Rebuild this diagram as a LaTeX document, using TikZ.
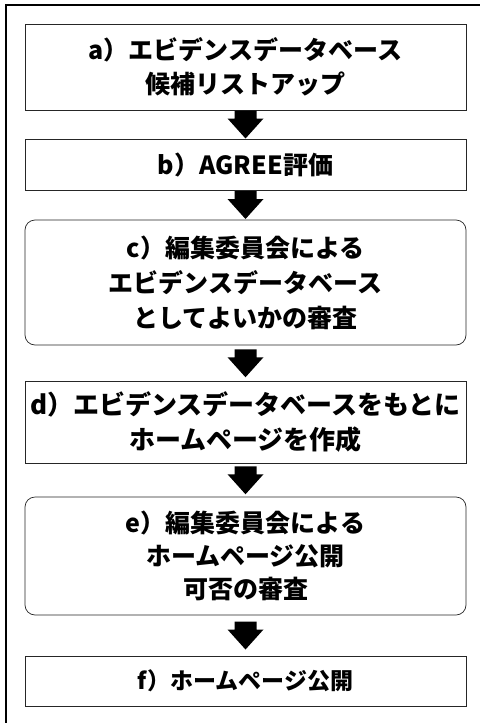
\documentclass[tikz,border=0pt]{standalone}
\usepackage{fontspec}
\newfontfamily\jp{Noto Sans CJK JP}
\usetikzlibrary{calc}
\tikzset{
  stepbox/.style={draw=black!85, line width=0.7pt, minimum width=441pt, inner sep=0pt,
    align=center, font=\jp\bfseries\fontsize{25}{34}\selectfont, text=black},
  roundbox/.style={stepbox, rounded corners=10pt},
  downarrow/.pic={\fill[black] (-11,-14) -- (11,-14) -- (11,-6) -- (18,-6) -- (0,14) -- (-18,-6) -- (-11,-6) -- cycle;},
}
\begin{document}
\begin{tikzpicture}[x=1pt,y=-1pt]
\useasboundingbox (0,0) rectangle (480,723);
% outer frame (cut off at right and bottom)
\draw[line width=2pt] (6,723) -- (6,5) -- (480,5);
\node[stepbox, minimum height=86pt] (a) at (245.5,67) {a）エビデンスデータベース\\候補リストアップ};
\node[stepbox, minimum height=51pt] (b) at (245.5,164.5) {b）AGREE評価};
\node[roundbox, minimum height=125pt, font=\jp\bfseries\fontsize{25}{35}\selectfont] (c) at (245.5,282.5) {c）編集委員会による\\エビデンスデータベース\\としてよいかの審査};
\node[stepbox, minimum height=82pt, font=\jp\bfseries\fontsize{26}{35}\selectfont] (d) at (245.5,422.5) {d）エビデンスデータベースをもとに\\ホームページを作成};
\node[roundbox, minimum height=118pt, font=\jp\bfseries\fontsize{25}{33}\selectfont] (e) at (245.5,556) {e）編集委員会による\\ホームページ公開\\可否の審査};
\node[stepbox, minimum height=50pt, font=\jp\bfseries\fontsize{23}{30}\selectfont] (f) at (245.5,681) {f）ホームページ公開};
\pic at ($(a.south)!0.5!(b.north)$) {downarrow};
\pic at ($(b.south)!0.5!(c.north)$) {downarrow};
\pic at ($(c.south)!0.5!(d.north)$) {downarrow};
\pic at ($(d.south)!0.5!(e.north)$) {downarrow};
\pic at ($(e.south)!0.5!(f.north)$) {downarrow};
\end{tikzpicture}
\end{document}
